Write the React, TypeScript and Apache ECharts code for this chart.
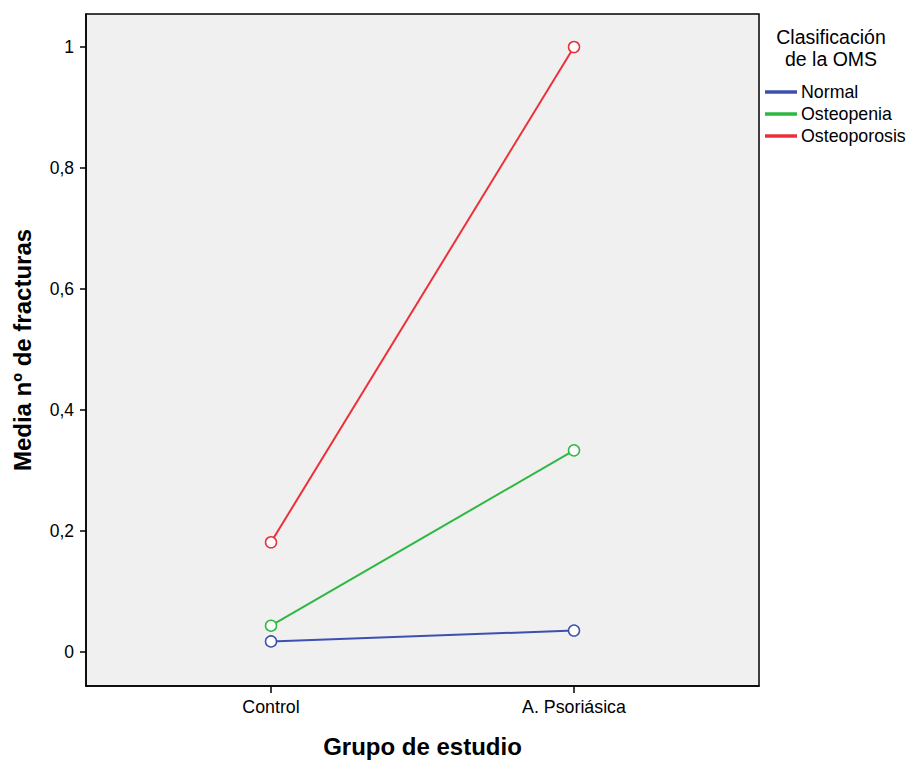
import React, { useEffect, useRef } from "react";
import * as echarts from "echarts";

const groups = ["Control", "A. Psoriásica"];
const seriesNames = ["Normal", "Osteopenia", "Osteoporosis"];
const normalValues = [0.017, 0.035];
const osteopeniaValues = [0.043, 0.333];
const osteoporosisValues = [0.181, 1.0];
const yTicks = [0, 0.2, 0.4, 0.6, 0.8, 1];
const colors = ["#3c50b0", "#2db842", "#ec303a"];

const FONT = "'Liberation Sans', Arial, sans-serif";

export default function App() {
  const ref = useRef<HTMLDivElement>(null);
  useEffect(() => {
    if (!ref.current) return;
    const chart = echarts.init(ref.current, null, { renderer: "svg" });
    const allValues = [normalValues, osteopeniaValues, osteoporosisValues];
    const groupIdx = groups.map((_, i) => i);
    chart.setOption({
      animation: false,
      backgroundColor: "#ffffff",
      textStyle: { fontFamily: FONT },
      grid: {
        left: 86,
        top: 14,
        right: 153,
        bottom: 79,
        show: true,
        backgroundColor: "#f0f0f0",
        borderColor: "#000000",
        borderWidth: 1.5,
      },
      xAxis: {
        type: "value",
        min: -0.6106,
        max: 1.6106,
        name: "Grupo de estudio",
        nameLocation: "middle",
        nameGap: 48,
        nameTextStyle: { fontFamily: FONT, fontSize: 24, fontWeight: "bold", color: "#000" },
        splitLine: { show: false },
        axisLine: { show: true, onZero: false, lineStyle: { color: "#000", width: 1.5 } },
        axisTick: { show: true, inside: false, customValues: groupIdx, length: 7, lineStyle: { color: "#000", width: 1.5 } },
        axisLabel: {
          customValues: groupIdx,
          formatter: (v: number) => groups[Math.round(v)] ?? "",
          fontFamily: FONT,
          fontSize: 17.8,
          color: "#000",
          margin: 12,
        },
      },
      yAxis: {
        type: "value",
        min: -0.0567,
        max: 1.0546,
        name: "Media nº de fracturas",
        nameLocation: "middle",
        nameGap: 52,
        nameTextStyle: { fontFamily: FONT, fontSize: 24, fontWeight: "bold", color: "#000" },
        splitLine: { show: false },
        axisLine: { show: true, onZero: false, lineStyle: { color: "#000", width: 1.5 } },
        axisTick: { show: true, inside: false, customValues: yTicks, length: 6, lineStyle: { color: "#000", width: 1.5 } },
        axisLabel: {
          customValues: yTicks,
          formatter: (v: number) => String(Math.round(v * 10) / 10).replace(".", ","),
          fontFamily: FONT,
          fontSize: 17.5,
          color: "#000",
          margin: 12,
        },
      },
      legend: {
        orient: "vertical",
        left: 765,
        top: 83,
        padding: 0,
        itemWidth: 30,
        itemHeight: 1.5,
        itemGap: 4,
        icon: "rect",
        data: seriesNames,
        textStyle: { fontFamily: FONT, fontSize: 17.8, lineHeight: 17, color: "#000", padding: [0, 0, 0, 0] },
      },
      graphic: [
        {
          type: "text",
          x: 831,
          y: 26,
          style: {
            text: "Clasificación\nde la OMS",
            align: "center",
            verticalAlign: "top",
            font: `19.5px ${FONT}`,
            lineHeight: 22,
            fill: "#000",
          },
        },
      ],
      series: seriesNames.map((name, s) => ({
        name,
        type: "line",
        data: allValues[s].map((v, i) => [i, v]),
        symbol: "circle",
        symbolSize: 11,
        color: colors[s],
        lineStyle: { color: colors[s], width: 2 },
        itemStyle: { color: "#ffffff", borderColor: colors[s], borderWidth: 1.5 },
      })),
    });
    return () => chart.dispose();
  }, []);
  return (
    <div
      ref={ref}
      style={{ position: "fixed", left: 0, top: 0, width: 912, height: 765 }}
    />
  );
}
